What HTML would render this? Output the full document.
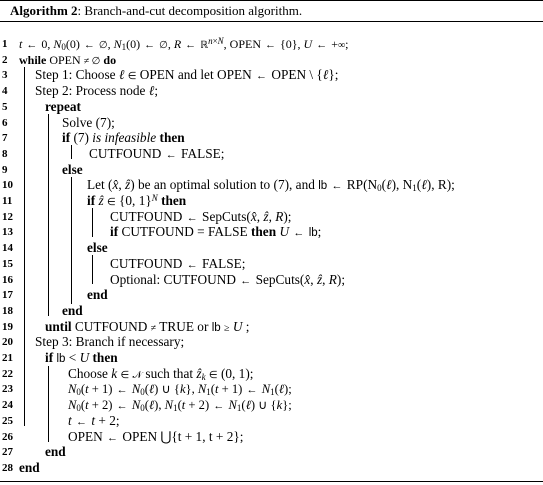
<!DOCTYPE html>
<html><head><meta charset="utf-8"><style>
body{margin:0;width:543px;height:485px;background:#fff;position:relative;overflow:hidden;font-family:"Liberation Serif",serif;font-size:13.3px;color:#000}
.hr{position:absolute;left:0;width:543px;background:#000}
.l{position:absolute;white-space:nowrap;line-height:14px;height:14px}
.n{position:absolute;left:2px;font-weight:bold;line-height:14px;font-size:11px}
.v{position:absolute;width:1px;background:#000}
b{font-weight:bold}
i{font-style:italic}
.a{font-size:11px;margin:0 1px}
.m{font-size:10px}
sub,sup{font-size:9px;line-height:0;vertical-align:0;position:relative}
sub{top:2px}
sup{top:-4px}
.s{font-family:"Liberation Sans",sans-serif;font-size:11.5px}
</style></head><body>
<div class="hr" style="top:0;height:1px"></div>
<div class="hr" style="top:21px;height:1px"></div>
<div class="hr" style="top:481px;height:1px"></div>
<div class="l" style="left:10px;top:3px;font-size:13px;line-height:16px;height:16px"><b>Algorithm 2</b>: Branch-and-cut decomposition algorithm.</div>

<div class="v" style="left:24px;top:67px;height:359px"></div>
<div class="v" style="left:48px;top:114px;height:202px"></div>
<div class="v" style="left:71px;top:145px;height:14px"></div>
<div class="v" style="left:71px;top:177px;height:127px"></div>
<div class="v" style="left:92px;top:208px;height:29px"></div>
<div class="v" style="left:92px;top:255px;height:29px"></div>
<div class="v" style="left:48px;top:366px;height:76px"></div>

<div class="n" style="top:37px">1</div><div class="l" style="left:19px;top:37px;font-size:12px"><i>t</i> <span class="a">←</span> 0, <i>N</i><sub>0</sub>(0) <span class="a">←</span> <span class="m">∅</span>, <i>N</i><sub>1</sub>(0) <span class="a">←</span> <span class="m">∅</span>, <i>R</i> <span class="a">←</span> <span class="m">ℝ</span><sup><i>n</i>×<i>N</i></sup>, OPEN <span class="a">←</span> {0}, <i>U</i> <span class="a">←</span> +<span class="m">∞</span>;</div>
<div class="n" style="top:52.7px">2</div><div class="l" style="left:19px;top:52.7px;font-size:12px"><b>while</b> OPEN <span class="m">≠ ∅</span> <b>do</b></div>
<div class="n" style="top:68.4px">3</div><div class="l" style="left:35px;top:68.4px">Step 1: Choose <i>ℓ</i> <span class="m">∈</span> OPEN and let OPEN <span class="a">←</span> OPEN \ {<i>ℓ</i>};</div>
<div class="n" style="top:84.1px">4</div><div class="l" style="left:35px;top:84.1px">Step 2: Process node <i>ℓ</i>;</div>
<div class="n" style="top:99.8px">5</div><div class="l" style="left:45px;top:99.8px"><b>repeat</b></div>
<div class="n" style="top:115.5px">6</div><div class="l" style="left:62px;top:115.5px">Solve (7);</div>
<div class="n" style="top:131.2px">7</div><div class="l" style="left:62px;top:131.2px"><b>if</b> (7) <i>is infeasible</i> <b>then</b></div>
<div class="n" style="top:146.9px">8</div><div class="l" style="left:89px;top:146.9px">CUTFOUND <span class="a">←</span> FALSE;</div>
<div class="n" style="top:162.6px">9</div><div class="l" style="left:62px;top:162.6px"><b>else</b></div>
<div class="n" style="top:178.3px">10</div><div class="l" style="left:87px;top:178.3px">Let (<i>x̂</i>, <i>ẑ</i>) be an optimal solution to (7), and <span class="s">lb</span> <span class="a">←</span> RP(N<sub>0</sub>(<i>ℓ</i>), N<sub>1</sub>(<i>ℓ</i>), R);</div>
<div class="n" style="top:194px">11</div><div class="l" style="left:87px;top:194px"><b>if</b> <i>ẑ</i> <span class="m">∈</span> {0, 1}<sup><i>N</i></sup> <b>then</b></div>
<div class="n" style="top:209.7px">12</div><div class="l" style="left:110px;top:209.7px">CUTFOUND <span class="a">←</span> SepCuts(<i>x̂</i>, <i>ẑ</i>, <i>R</i>);</div>
<div class="n" style="top:225.4px">13</div><div class="l" style="left:110px;top:225.4px"><b>if</b> CUTFOUND = FALSE <b>then</b> <i>U</i> <span class="a">←</span> <span class="s">lb</span>;</div>
<div class="n" style="top:241.1px">14</div><div class="l" style="left:87px;top:241.1px"><b>else</b></div>
<div class="n" style="top:256.8px">15</div><div class="l" style="left:110px;top:256.8px">CUTFOUND <span class="a">←</span> FALSE;</div>
<div class="n" style="top:272.5px">16</div><div class="l" style="left:110px;top:272.5px">Optional: CUTFOUND <span class="a">←</span> SepCuts(<i>x̂</i>, <i>ẑ</i>, <i>R</i>);</div>
<div class="n" style="top:288.2px">17</div><div class="l" style="left:87px;top:288.2px"><b>end</b></div>
<div class="n" style="top:303.9px">18</div><div class="l" style="left:62px;top:303.9px"><b>end</b></div>
<div class="n" style="top:319.6px">19</div><div class="l" style="left:45px;top:319.6px"><b>until</b> CUTFOUND <span class="m">≠</span> TRUE or <span class="s">lb</span> <span class="m">≥</span> <i>U</i> ;</div>
<div class="n" style="top:335.3px">20</div><div class="l" style="left:35px;top:335.3px">Step 3: Branch if necessary;</div>
<div class="n" style="top:351px">21</div><div class="l" style="left:45px;top:351px"><b>if</b> <span class="s">lb</span> &lt; <i>U</i> <b>then</b></div>
<div class="n" style="top:366.7px">22</div><div class="l" style="left:68px;top:366.7px">Choose <i>k</i> <span class="m">∈</span> <span class="m">𝒩</span> such that <i>ẑ<sub>k</sub></i> <span class="m">∈</span> (0, 1);</div>
<div class="n" style="top:382.4px">23</div><div class="l" style="left:68px;top:382.4px;font-size:12.6px"><i>N</i><sub>0</sub>(<i>t</i> + 1) <span class="a">←</span> <i>N</i><sub>0</sub>(<i>ℓ</i>) ∪ {<i>k</i>}, <i>N</i><sub>1</sub>(<i>t</i> + 1) <span class="a">←</span> <i>N</i><sub>1</sub>(<i>ℓ</i>);</div>
<div class="n" style="top:398.1px">24</div><div class="l" style="left:68px;top:398.1px;font-size:12.6px"><i>N</i><sub>0</sub>(<i>t</i> + 2) <span class="a">←</span> <i>N</i><sub>0</sub>(<i>ℓ</i>), <i>N</i><sub>1</sub>(<i>t</i> + 2) <span class="a">←</span> <i>N</i><sub>1</sub>(<i>ℓ</i>) ∪ {<i>k</i>};</div>
<div class="n" style="top:413.8px">25</div><div class="l" style="left:68px;top:413.8px"><i>t</i> <span class="a">←</span> <i>t</i> + 2;</div>
<div class="n" style="top:429.5px">26</div><div class="l" style="left:68px;top:429.5px">OPEN <span class="a">←</span> OPEN ⋃{t + 1, t + 2};</div>
<div class="n" style="top:445.2px">27</div><div class="l" style="left:45px;top:445.2px"><b>end</b></div>
<div class="n" style="top:460.9px">28</div><div class="l" style="left:19px;top:460.9px"><b>end</b></div>
</body></html>
